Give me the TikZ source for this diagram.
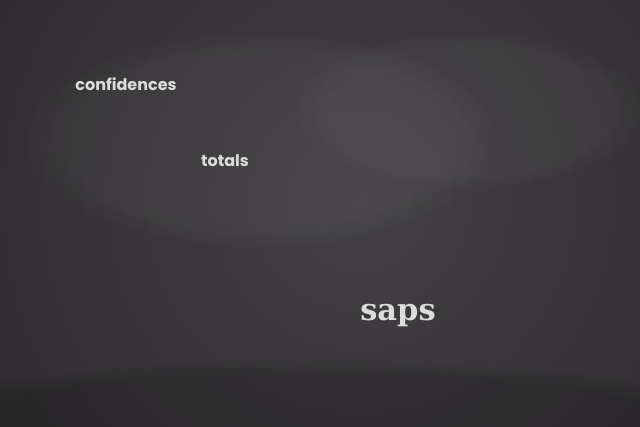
\documentclass[tikz,border=0pt]{standalone}
\usepackage{fontspec}
\usetikzlibrary{fadings}
\newfontfamily\roundfont{Poppins}
\newfontfamily\slabfont{DejaVu Serif}
\definecolor{board}{HTML}{363436}
\definecolor{boardlight}{HTML}{434144}
\definecolor{boarddark}{HTML}{2C2A2C}
\definecolor{chalk}{HTML}{DCDCDC}
\begin{document}
\begin{tikzpicture}[x=1pt,y=-1pt,
  chalkword/.style={text=chalk, inner sep=0pt, anchor=center},
  smallword/.style={chalkword, font=\roundfont\bfseries\fontsize{16}{18}\selectfont},
  bigword/.style={chalkword, font=\slabfont\bfseries\fontsize{30.5}{34}\selectfont},
  smudge/.style={fill=white, path fading=circle with fuzzy edge 20 percent}]
  \useasboundingbox (0,0) rectangle (640,426);
  \fill[board] (0,0) rectangle (640,426);
  \begin{scope}
    \clip (0,0) rectangle (640,426);
    \shade[inner color=boardlight, outer color=boarddark] (360,200) circle (470);
    \fill[smudge, fill opacity=0.04] (260,140) ellipse (240 and 110);
    \fill[smudge, fill opacity=0.035] (470,110) ellipse (180 and 80);
    \fill[black, path fading=circle with fuzzy edge 20 percent, fill opacity=0.15] (320,420) ellipse (420 and 60);
  \end{scope}
  \node[smallword] (conf) at (126,84) {confidences};
  \node[smallword] (tot) at (225,161) {totals};
  \node[bigword, anchor=base] (saps) at (398,320) {saps};
\end{tikzpicture}
\end{document}
